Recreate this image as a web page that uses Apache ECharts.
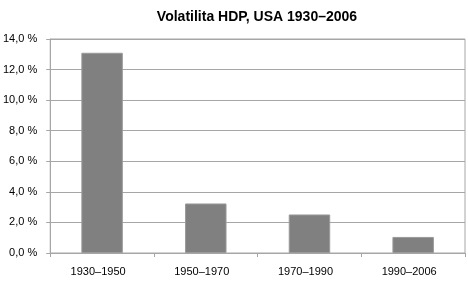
<!DOCTYPE html>
<html><head><meta charset="utf-8">
<script src="https://cdn.jsdelivr.net/npm/echarts@6/dist/echarts.min.js"></script>
<style>html,body{margin:0;padding:0;background:#fff}#c{width:468px;height:290px}</style>
</head><body><div id="c"></div>
<script>
const title = 'Volatilita HDP, USA 1930–2006';
const categories = ['1930–1950', '1950–1970', '1970–1990', '1990–2006'];
const values = [13.1, 3.24, 2.52, 1.05];
const yTicks = [0, 2, 4, 6, 8, 10, 12, 14];

const chart = echarts.init(document.getElementById('c'), null, {renderer: 'canvas'});
chart.setOption({
  animation: false,
  backgroundColor: '#fff',
  title: {
    text: title, left: 252, textAlign: 'center', top: 5,
    textStyle: {fontFamily: 'Liberation Sans, Arial', fontWeight: 'bold', fontSize: 14, color: '#000'}
  },
  grid: {left: 50, right: 3, top: 39, bottom: 37, show: true, borderColor: '#a6a6a6', borderWidth: 1},
  xAxis: {
    type: 'category', data: categories,
    axisLine: {lineStyle: {color: '#a6a6a6'}},
    axisTick: {show: true, length: 4, lineStyle: {color: '#a6a6a6'}},
    axisLabel: {color: '#000', fontFamily: 'Liberation Sans, Arial', fontSize: 11, margin: 13,
      padding: [0, 8, 0, 0]}
  },
  yAxis: {
    type: 'value', min: yTicks[0], max: yTicks[yTicks.length - 1], interval: 2,
    axisLine: {show: true, lineStyle: {color: '#a6a6a6'}},
    axisTick: {show: true, length: 4, lineStyle: {color: '#a6a6a6'}},
    splitLine: {lineStyle: {color: '#a6a6a6'}},
    axisLabel: {color: '#000', fontFamily: 'Liberation Sans, Arial', fontSize: 11, margin: 13,
      formatter: v => v.toFixed(1).replace('.', ',') + ' %'}
  },
  series: [{
    type: 'bar', data: values, barCategoryGap: '60%',
    itemStyle: {color: '#808080', borderColor: '#9a9a9a', borderWidth: 1}
  }]
});
</script></body></html>
